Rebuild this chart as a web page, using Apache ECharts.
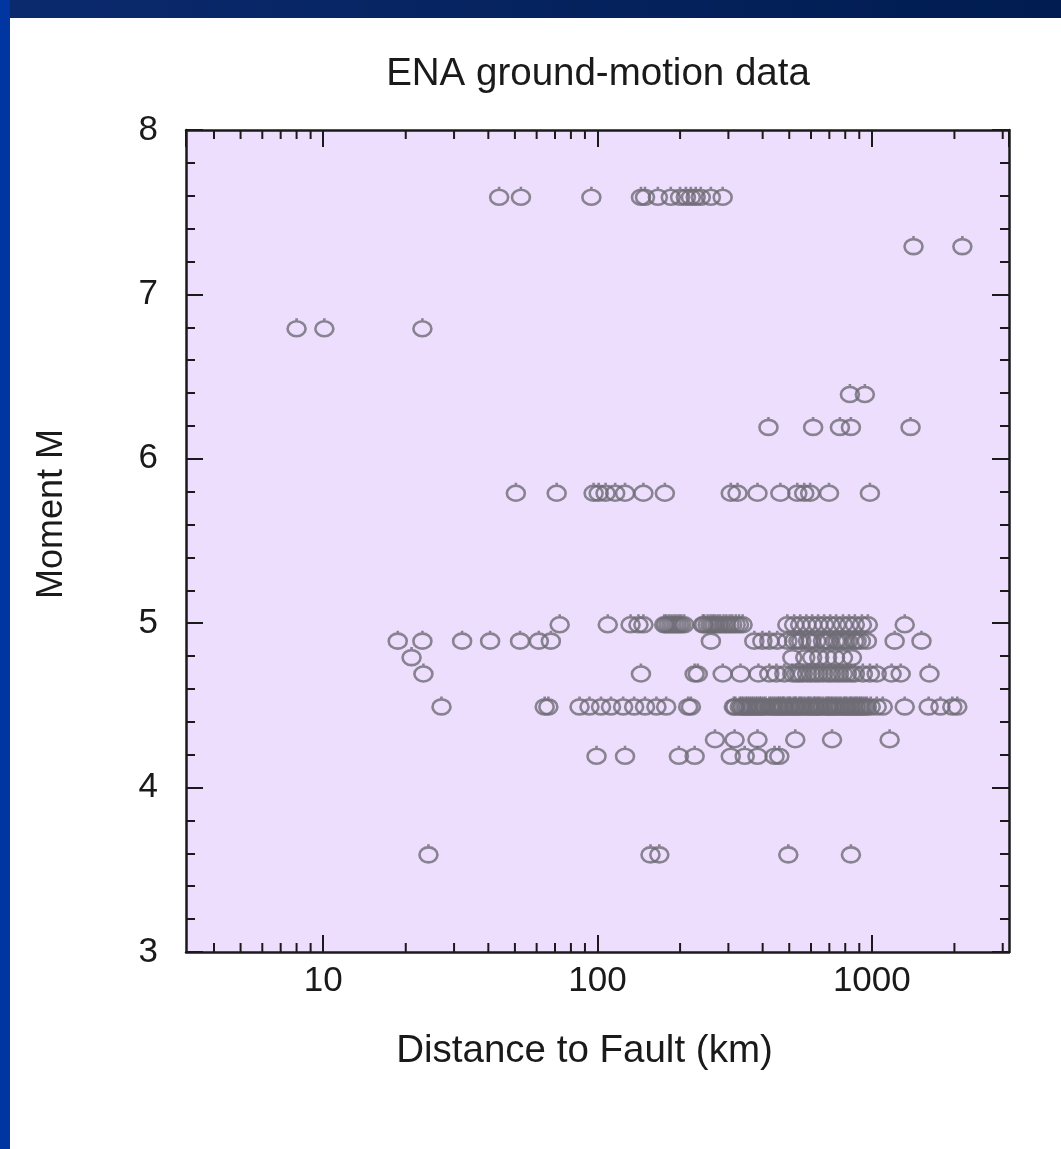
<!DOCTYPE html>
<html>
<head>
<meta charset="utf-8">
<script src="https://cdn.jsdelivr.net/npm/echarts@6/dist/echarts.min.js"></script>
<style>
  html, body { margin: 0; padding: 0; background: #ffffff; }
  #chart { width: 1061px; height: 1149px; }
</style>
</head>
<body>
<div id="chart"></div>
<script>
// Moment magnitude of each row of records, and the fault distances (km) recorded at it
const magnitudes = [7.6, 7.3, 6.8, 6.4, 6.2, 5.8, 5.0, 4.9, 4.8, 4.7, 4.5, 4.3, 4.2, 3.6];

const distM76 = [43.8, 52.6, 95, 144, 149, 166, 185, 200, 210, 219, 228, 238, 259, 286];
const distM73 = [1419, 2138];
const distM68 = [8, 10.1, 23];
const distM64 = [832, 943];
const distM62 = [420, 611, 765, 839, 1384];
const distM58 = [50.4, 71, 96.8, 101, 107, 116, 126, 147, 176, 306, 324, 383, 464, 535, 567, 596, 698, 984];
const distM50 = [72.8, 109, 132, 141, 147, 175, 178, 182, 186, 190, 194, 198, 202, 207,
                 242, 245, 252, 258, 263, 268, 274, 280, 288, 295, 303, 310, 319, 328, 338,
                 492, 521, 548, 577, 606, 637, 670, 705, 741, 785, 826, 867, 920, 967, 1318];
const distM49 = [18.7, 23, 32.1, 40.6, 52.2, 61.1, 67.6, 259, 373, 399, 423, 452, 492, 521, 540, 553, 586,
                 600, 627, 664, 680, 698, 734, 750, 778, 800, 818, 861, 880, 912, 959, 1211, 1517];
const distM48 = [21, 513, 572, 606, 643, 687, 734, 785, 846];
const distM47 = [23.2, 144, 226, 232, 286, 332, 386, 423, 449, 480, 513, 530, 544, 560, 581, 600, 621,
                 640, 664, 690, 710, 735, 759, 785, 811, 840, 867, 927, 984, 1042, 1180, 1274, 1622];
const distM45 = [27, 64.2, 66.2, 86, 93.5, 103, 112, 124, 136, 149, 164, 178, 214, 219,
                 314, 318, 330, 335, 340, 347, 352, 358, 364, 370, 377, 383, 390, 395, 403, 410,
                 423, 430, 438, 446, 455, 460, 468, 475, 480, 492, 500, 505, 518, 525, 530, 544,
                 550, 560, 572, 585, 590, 601, 615, 620, 632, 640, 650, 664, 680, 690, 698, 710,
                 720, 734, 745, 760, 772, 790, 800, 811, 830, 840, 853, 870, 880, 897, 910, 925,
                 943, 960, 991, 1042, 1096, 1318, 1611, 1779, 1965, 2049];
const distM43 = [268, 316, 383, 526, 716, 1161];
const distM42 = [99.2, 126, 198, 226, 306, 344, 383, 442, 460];
const distM36 = [24.2, 156, 168, 496, 839];

const distanceRows = [distM76, distM73, distM68, distM64, distM62, distM58, distM50,
                      distM49, distM48, distM47, distM45, distM43, distM42, distM36];

// Axis ranges and tick positions
const xMin = Math.pow(10, 0.5);
const xMax = Math.pow(10, 3.5);
const yMin = 3;
const yMax = 8;
const xMinorTicks = [4, 5, 6, 7, 8, 9, 20, 30, 40, 50, 60, 70, 80, 90,
                     200, 300, 400, 500, 600, 700, 800, 900, 2000, 3000];

const points = [];
magnitudes.forEach((m, i) => {
  distanceRows[i].forEach(d => points.push([d, m]));
});

const FONT = '"Liberation Sans", Arial, sans-serif';
const INK = '#1a1a1a';
const MARKER = '#6e6b74';
// open circle with a small stem on top
const markerPath = 'path://M9,0L9,3M1,10.5A8,7.5,0,1,1,17,10.5A8,7.5,0,1,1,1,10.5Z';

const chart = echarts.init(document.getElementById('chart'), null, { renderer: 'canvas' });

const logLabel = v => {
  const l = Math.log10(v);
  return Math.abs(l - Math.round(l)) < 1e-6 ? String(Math.round(v)) : '';
};

const baseX = {
  type: 'log',
  logBase: 10,
  min: xMin,
  max: xMax,
  axisLine: { show: true, onZero: false, lineStyle: { color: INK, width: 2.5 } },
  axisTick: { show: true, inside: true, length: 17, lineStyle: { color: INK, width: 2 } },
  splitLine: { show: false },
  minorTick: { show: false },
  minorSplitLine: { show: false }
};

const baseY = {
  type: 'value',
  min: yMin,
  max: yMax,
  interval: 1,
  axisLine: { show: true, onZero: false, lineStyle: { color: INK, width: 2.5 } },
  axisTick: { show: true, inside: true, length: 17, lineStyle: { color: INK, width: 2 } },
  minorTick: { show: true, splitNumber: 5, length: 9, lineStyle: { color: INK, width: 2 } },
  splitLine: { show: false }
};

chart.setOption({
  backgroundColor: '#ffffff',
  animation: false,
  title: {
    text: 'ENA ground-motion data',
    left: 593,
    top: 50,
    textAlign: 'center',
    textStyle: { fontFamily: FONT, fontSize: 38.5, fontWeight: 'normal', color: INK }
  },
  graphic: [
    {
      type: 'rect', left: 0, top: 0, z: 10,
      shape: { width: 1061, height: 18 },
      style: {
        fill: new echarts.graphic.LinearGradient(0, 0, 1, 0, [
          { offset: 0, color: '#0b2a6e' },
          { offset: 1, color: '#001c50' }
        ])
      }
    },
    {
      type: 'rect', left: 0, top: 0, z: 11,
      shape: { width: 10, height: 1149 },
      style: { fill: '#0035a2' }
    }
  ],
  grid: {
    left: 186, right: 52, top: 130, bottom: 197,
    show: true, backgroundColor: '#eedefe', borderWidth: 0
  },
  xAxis: [
    Object.assign({}, baseX, {
      position: 'bottom',
      name: 'Distance to Fault (km)',
      nameLocation: 'middle',
      nameGap: 80,
      nameTextStyle: { fontFamily: FONT, fontSize: 38.5, color: INK, padding: [0, 26, 0, 0] },
      axisLabel: {
        show: true, margin: 12, fontFamily: FONT, fontSize: 35, color: INK,
        formatter: logLabel, showMinLabel: false, showMaxLabel: false
      }
    }),
    Object.assign({}, baseX, {
      position: 'top',
      axisLabel: { show: false }
    })
  ],
  yAxis: [
    Object.assign({}, baseY, {
      position: 'left',
      name: 'Moment M',
      nameLocation: 'middle',
      nameGap: 116,
      nameTextStyle: { fontFamily: FONT, fontSize: 36, color: INK, padding: [0, 0, 0, 54] },
      axisLabel: { show: true, margin: 28, fontFamily: FONT, fontSize: 35, color: INK }
    }),
    Object.assign({}, baseY, {
      position: 'right',
      axisLabel: { show: false }
    })
  ],
  series: [
    {
      type: 'scatter',
      xAxisIndex: 0,
      yAxisIndex: 0,
      data: points,
      symbol: markerPath,
      symbolSize: [18, 18],
      itemStyle: { color: 'transparent', borderColor: MARKER, borderWidth: 2.6 },
      z: 3
    },
    {
      // minor decade ticks on the bottom and top frame
      type: 'custom',
      xAxisIndex: 0,
      yAxisIndex: 0,
      silent: true,
      clip: false,
      data: xMinorTicks.map(v => [v, yMin]),
      renderItem: (params, api) => {
        const v = api.value(0);
        const b = api.coord([v, yMin]);
        const t = api.coord([v, yMax]);
        return {
          type: 'group',
          children: [
            { type: 'line', shape: { x1: b[0], y1: b[1], x2: b[0], y2: b[1] - 9 },
              style: { stroke: INK, lineWidth: 2 } },
            { type: 'line', shape: { x1: t[0], y1: t[1], x2: t[0], y2: t[1] + 9 },
              style: { stroke: INK, lineWidth: 2 } }
          ]
        };
      },
      z: 5
    }
  ]
});
</script>
</body>
</html>
